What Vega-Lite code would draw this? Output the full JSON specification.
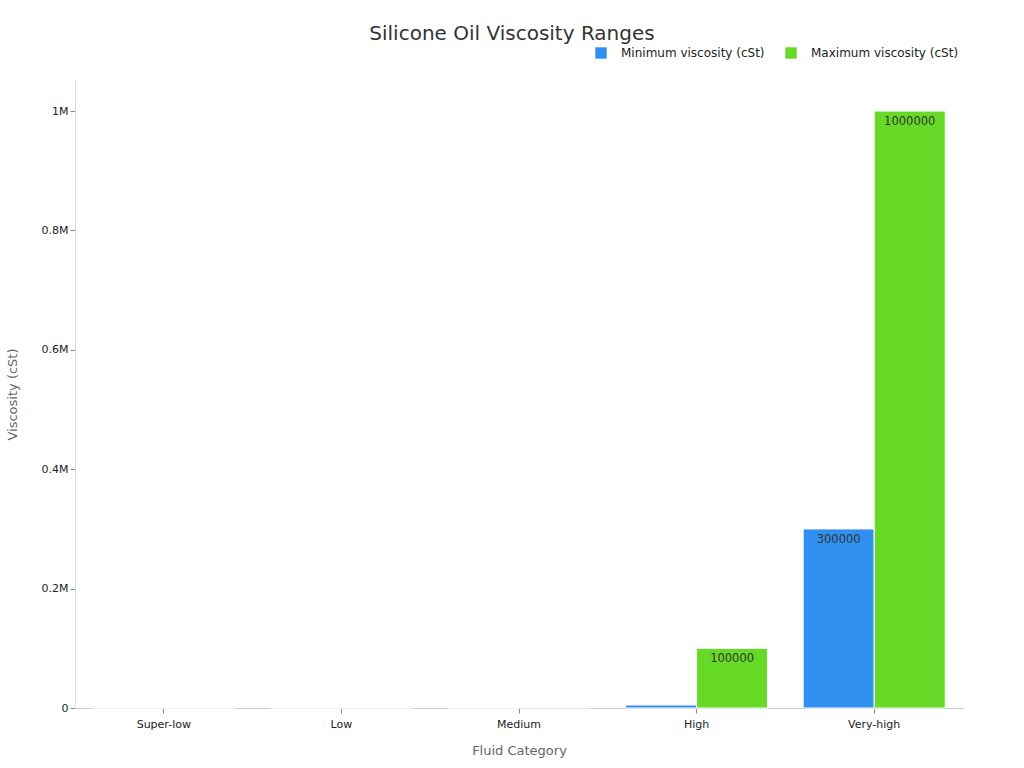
{
  "$schema": "https://vega.github.io/schema/vega-lite/v6.json",
  "width": 888,
  "height": 628,
  "autosize": {"type": "none"},
  "padding": {"left": 75, "top": 80, "right": 61, "bottom": 60},
  "background": "white",
  "title": {
    "text": "Silicone Oil Viscosity Ranges",
    "fontSize": 20,
    "fontWeight": "normal",
    "color": "#333333",
    "font": "DejaVu Sans",
    "offset": 3,
    "dx": -7
  },
  "config": {
    "view": {"stroke": null},
    "font": "DejaVu Sans"
  },
  "data": {
    "values": [
      {"category": "Super-low", "series": "Minimum viscosity (cSt)", "value": 0.65},
      {"category": "Super-low", "series": "Maximum viscosity (cSt)", "value": 5},
      {"category": "Low", "series": "Minimum viscosity (cSt)", "value": 10},
      {"category": "Low", "series": "Maximum viscosity (cSt)", "value": 100},
      {"category": "Medium", "series": "Minimum viscosity (cSt)", "value": 100},
      {"category": "Medium", "series": "Maximum viscosity (cSt)", "value": 1000},
      {"category": "High", "series": "Minimum viscosity (cSt)", "value": 5000},
      {"category": "High", "series": "Maximum viscosity (cSt)", "value": 100000},
      {"category": "Very-high", "series": "Minimum viscosity (cSt)", "value": 300000},
      {"category": "Very-high", "series": "Maximum viscosity (cSt)", "value": 1000000}
    ]
  },
  "encoding": {
    "x": {
      "field": "category",
      "type": "nominal",
      "sort": ["Super-low", "Low", "Medium", "High", "Very-high"],
      "title": "Fluid Category",
      "scale": {"paddingInner": 0.2, "paddingOuter": 0.1},
      "axis": {
        "labelAngle": 0,
        "labelFontSize": 11,
        "labelColor": "#222222",
        "labelPadding": 5,
        "titleFontSize": 13,
        "titleFontWeight": "normal",
        "titleColor": "#666666",
        "titlePadding": 15,
        "domainColor": "#cccccc",
        "tickColor": "#888888"
      }
    },
    "xOffset": {
      "field": "series",
      "type": "nominal",
      "sort": ["Minimum viscosity (cSt)", "Maximum viscosity (cSt)"]
    },
    "y": {
      "field": "value",
      "type": "quantitative",
      "title": "Viscosity (cSt)",
      "scale": {"domain": [0, 1052000], "nice": false},
      "axis": {
        "values": [0, 200000, 400000, 600000, 800000, 1000000],
        "labelExpr": "datum.value == 0 ? '0' : format(datum.value / 1000000, '~g') + 'M'",
        "grid": false,
        "labelFontSize": 11,
        "labelColor": "#222222",
        "titleFontSize": 13,
        "titleFontWeight": "normal",
        "titleColor": "#666666",
        "titlePadding": 22,
        "domainColor": "#dddddd",
        "tickColor": "#888888"
      }
    }
  },
  "layer": [
    {
      "mark": {"type": "bar", "stroke": "white", "strokeWidth": 1},
      "encoding": {
        "color": {
          "field": "series",
          "type": "nominal",
          "sort": ["Minimum viscosity (cSt)", "Maximum viscosity (cSt)"],
          "scale": {"range": ["#3090f0", "#66da26"]},
          "legend": {
            "title": null,
            "orient": "none",
            "direction": "horizontal",
            "legendX": 520,
            "legendY": -33,
            "symbolType": "square",
            "symbolSize": 130,
            "symbolStrokeWidth": 0,
            "labelFontSize": 12,
            "labelOffset": 14,
            "labelColor": "#222222",
            "columnPadding": 20
          }
        }
      }
    },
    {
      "transform": [{"filter": "datum.value >= 50000"}],
      "mark": {"type": "text", "baseline": "top", "dy": 5, "fontSize": 11.5, "color": "#333333"},
      "encoding": {
        "text": {"field": "value", "type": "quantitative", "format": "d"}
      }
    }
  ]
}
